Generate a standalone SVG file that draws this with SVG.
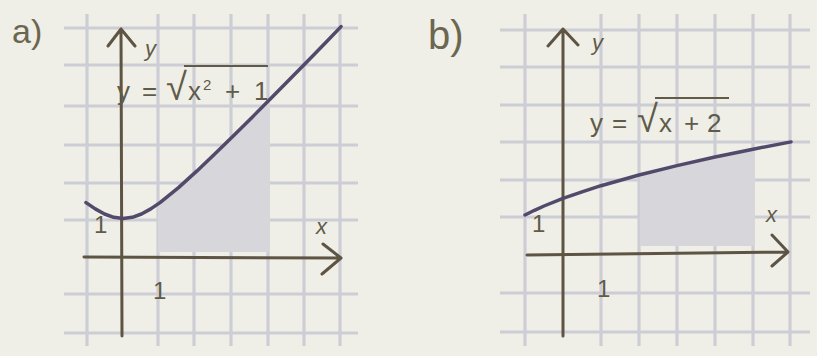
<svg xmlns="http://www.w3.org/2000/svg" width="817" height="356" viewBox="0 0 817 356">
<defs>
<style>
.bg{fill:#efeee7}
.grid line{stroke:#cdcdd5;stroke-width:3.2}
.axis{stroke:#5e5444;stroke-width:3;fill:none;stroke-linecap:round;stroke-linejoin:round}
.curve{stroke:#53496a;stroke-width:3.5;fill:none;stroke-linecap:round;stroke-linejoin:round}
.shade{fill:#d6d6db}
.lbl{font-family:"Liberation Sans",Arial,sans-serif;fill:#5f5b48}
.eq{font-size:26px}
.rad{font-size:38px}
.ax{font-size:22px;font-style:italic}
.num{font-size:24px}
.part{font-family:"Liberation Sans",Arial,sans-serif;fill:#6b6650}
.vinc{stroke:#5f5b48;stroke-width:2.2}
</style>
</defs>
<rect class="bg" x="0" y="0" width="817" height="356"/>

<g id="panel-a">
  <text class="part" x="12" y="43" font-size="34">a)</text>
  <g class="grid">
    <line x1="87" y1="14" x2="87" y2="346"/>
    <line x1="158" y1="14" x2="158" y2="346"/>
    <line x1="194" y1="14" x2="194" y2="346"/>
    <line x1="231" y1="14" x2="231" y2="346"/>
    <line x1="268" y1="14" x2="268" y2="346"/>
    <line x1="304" y1="14" x2="304" y2="346"/>
    <line x1="340" y1="14" x2="340" y2="346"/>
    <line x1="64" y1="28" x2="358" y2="28"/>
    <line x1="64" y1="65" x2="358" y2="65"/>
    <line x1="64" y1="106" x2="358" y2="106"/>
    <line x1="64" y1="145" x2="358" y2="145"/>
    <line x1="64" y1="183" x2="358" y2="183"/>
    <line x1="64" y1="220" x2="358" y2="220"/>
    <line x1="64" y1="294" x2="358" y2="294"/>
    <line x1="64" y1="333" x2="358" y2="333"/>
  </g>
  <polygon class="shade" points="158,252 158,204 178.5,187.6 197,170.9 215.5,153.3 234,135.3 252.5,116.9 270,99.3 270,252"/>
  <path class="axis" d="M122,336 L121,29 M108,46 L121,29 L135,46"/>
  <path class="axis" d="M84,257 L341,258 M323,244 L341,258 L322,274"/>
  <polyline class="curve" points="86,202.6 95.25,208.9 104.5,214 113.75,217.3 123,218.5 132.25,217.3 141.5,214 150.75,208.9 160,202.6 178.5,187.6 197,170.9 215.5,153.3 234,135.3 252.5,116.9 271,98.3 289.5,79.5 308,60.7 326.5,41.8 341,26.6"/>
  <text class="lbl ax" x="145" y="56">y</text>
  <text class="lbl ax" x="316" y="234">x</text>
  <text class="lbl num" x="153" y="299">1</text>
  <text class="lbl num" x="94" y="233">1</text>
  <text class="lbl eq" y="100"><tspan x="117">y</tspan><tspan x="142">=</tspan><tspan x="166" class="rad">√</tspan><tspan x="188">x</tspan><tspan x="203" dy="-10" font-size="15">2</tspan><tspan x="225" dy="10">+</tspan><tspan x="254">1</tspan></text>
  <line class="vinc" x1="184" y1="66" x2="268" y2="66"/>
</g>

<g id="panel-b">
  <text class="part" x="428" y="49" font-size="40">b)</text>
  <g class="grid">
    <line x1="525" y1="14" x2="525" y2="346"/>
    <line x1="601" y1="14" x2="601" y2="346"/>
    <line x1="639" y1="14" x2="639" y2="346"/>
    <line x1="677" y1="14" x2="677" y2="346"/>
    <line x1="715" y1="14" x2="715" y2="346"/>
    <line x1="753" y1="14" x2="753" y2="346"/>
    <line x1="790" y1="14" x2="790" y2="346"/>
    <line x1="500" y1="30" x2="810" y2="30"/>
    <line x1="500" y1="67" x2="810" y2="67"/>
    <line x1="500" y1="105" x2="810" y2="105"/>
    <line x1="500" y1="142" x2="810" y2="142"/>
    <line x1="500" y1="180" x2="810" y2="180"/>
    <line x1="500" y1="217" x2="810" y2="217"/>
    <line x1="500" y1="293" x2="810" y2="293"/>
    <line x1="500" y1="332" x2="810" y2="332"/>
  </g>
  <polygon class="shade" points="640,246 640,174.7 677,165.6 715,157 755,149 755,246"/>
  <path class="axis" d="M563,336 L563,29 M548,46 L563,29 L578,45"/>
  <path class="axis" d="M527,255 L788,252 M772,235 L788,252 L772,266"/>
  <polyline class="curve" points="525,215 534.5,210.3 544,206 563,198.4 582,191.8 601,185.7 639,175 677,165.6 715,157 753,149.2 791,141.9"/>
  <text class="lbl ax" x="592" y="50">y</text>
  <text class="lbl ax" x="766" y="222">x</text>
  <text class="lbl num" x="597" y="297">1</text>
  <text class="lbl num" x="532" y="232">1</text>
  <text class="lbl eq" y="132"><tspan x="590">y</tspan><tspan x="612">=</tspan><tspan x="637" class="rad">√</tspan><tspan x="659">x</tspan><tspan x="684">+</tspan><tspan x="707">2</tspan></text>
  <line class="vinc" x1="655" y1="98" x2="729" y2="98"/>
</g>
</svg>
